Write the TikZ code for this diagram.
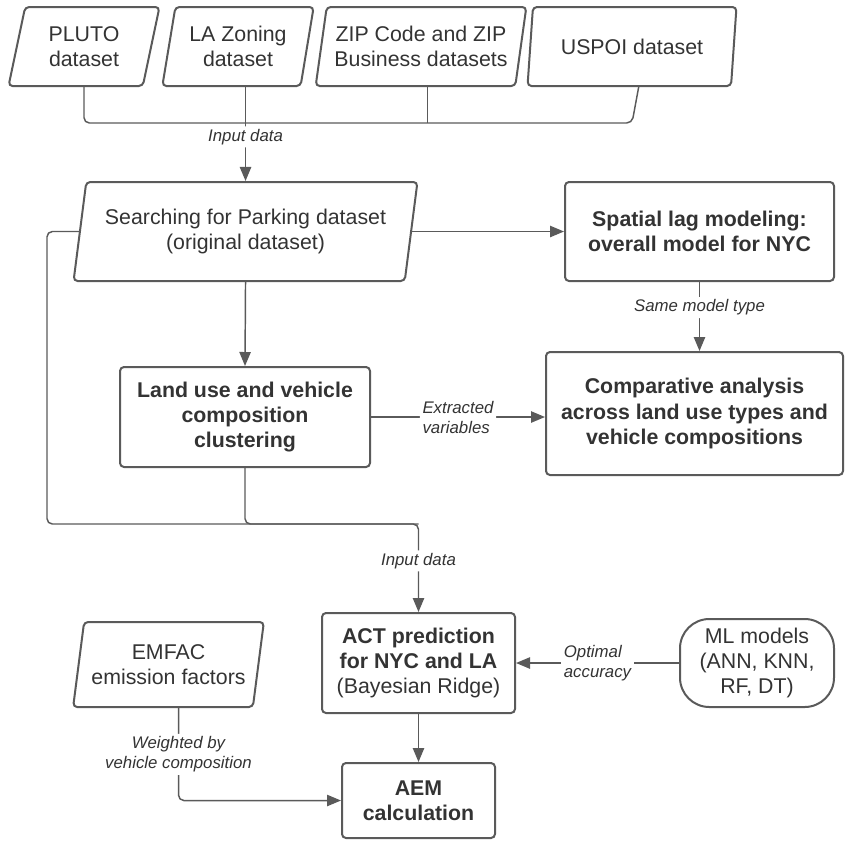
\documentclass[tikz,border=0pt]{standalone}
\usepackage{fontspec}
\setmainfont{Liberation Sans}
\usetikzlibrary{shapes.geometric,arrows.meta}

\definecolor{linegray}{HTML}{5A5A5A}
\definecolor{textgray}{HTML}{333333}

\tikzset{
  box/.style={draw=linegray, line width=1.5pt, rounded corners=3pt,
    align=center, text=textgray, inner sep=0pt,
    font=\fontsize{16}{18.8}\selectfont},
  boldbox/.style={box, font=\fontsize{16}{18.8}\selectfont\bfseries},
  databox/.style={box, trapezium, trapezium left angle=76,
    trapezium right angle=104, trapezium stretches=true},
  dims/.style 2 args={minimum width=#1*0.75pt, minimum height=#2*0.75pt},
  conn/.style={draw=linegray, line width=1.1pt, rounded corners=4pt},
  arr/.style={conn, -{Triangle[length=10.5pt,width=8.5pt]}},
  lbl/.style={fill=white, text=textgray, inner sep=2pt, align=center,
    font=\fontsize{12.6}{15}\selectfont\itshape}
}

\begin{document}
\begin{tikzpicture}[x=0.75pt,y=-0.75pt]
  \useasboundingbox (0,0) rectangle (845,840);

  % Input datasets
  \node[databox, dims={152}{79}] (pluto) at (84,46.5) {PLUTO\\dataset};
  \node[databox, dims={152}{79}] (lazoning) at (238,46.5) {LA Zoning\\dataset};
  \node[databox, dims={211}{79}] (zip) at (421,46.5) {ZIP Code and ZIP\\Business datasets};
  \node[databox, dims={209}{79}] (uspoi) at (632,46.5) {USPOI dataset};
  \coordinate (bar) at (0,123);

  % Parking data and NYC model
  \node[databox, dims={345}{99}] (search) at (245.5,231.5) {Searching for Parking dataset\\(original dataset)};
  \node[boldbox, dims={269}{99}] (spatial) at (699.5,231.5) {Spatial lag modeling:\\overall model for NYC};

  % Clustering and comparison
  \node[boldbox, dims={250}{100}] (landuse) at (245,417) {Land use and vehicle\\composition\\clustering};
  \node[boldbox, dims={297}{123}] (compare) at (694.5,413.5) {Comparative analysis\\across land use types and\\vehicle compositions};
  \coordinate (lowleft) at (47,524);

  % Prediction and emissions
  \node[box, dims={193}{100}] (act) at (418.5,663) {\textbf{ACT prediction}\\\textbf{for NYC and LA}\\(Bayesian Ridge)};
  \node[box, dims={154}{88}, rounded corners=22pt] (ml) at (757,663) {ML models\\(ANN, KNN,\\RF, DT)};
  \node[databox, dims={191}{85}] (emfac) at (168.5,664.5) {EMFAC\\emission factors};
  \node[boldbox, dims={153}{75}] (aem) at (418.5,800.5) {AEM\\calculation};
  \coordinate (merge) at (act.north |- lowleft);

  % Connectors
  \draw[conn] (pluto.south) |- (bar -| uspoi.south) -- ([xshift=5pt]uspoi.south);
  \draw[conn] ([xshift=5pt]zip.south) -- ([xshift=5pt]zip.south |- bar);
  \draw[arr] (lazoning.south -| search.north) -- node[lbl, pos=0.53] {Input data} (search.north);
  \draw[arr] (search.east) -- (search.east -| spatial.west);
  \draw[arr] (search.south) -- (landuse.north);
  \draw[arr] (spatial.south) -- node[lbl, pos=0.37] {Same model type} (spatial.south |- compare.north);
  \draw[arr] (landuse.east) -- node[lbl, align=left] {Extracted\\variables} (landuse.east -| compare.west);
  \draw[conn] (landuse.south) |- (merge);
  \draw[arr] (search.west) -| (lowleft) -- (merge) -- node[lbl, pos=0.42] {Input data} (act.north);
  \draw[arr] (ml.west) -- node[lbl, align=left] {Optimal\\accuracy} (act.east);
  \draw[arr] (act.south) -- (aem.north);
  \draw[arr] ([xshift=7.5pt]emfac.south) |- node[lbl, pos=0.25] {Weighted by\\vehicle composition} (aem.west);
\end{tikzpicture}
\end{document}
